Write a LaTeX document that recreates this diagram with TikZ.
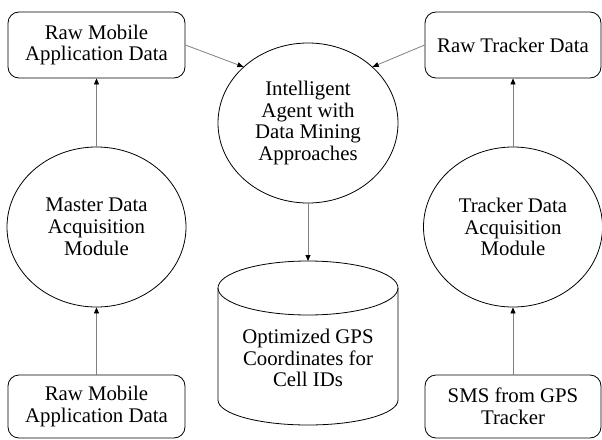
\documentclass[tikz,border=0pt]{standalone}
\usepackage{fontspec}
\setmainfont{Liberation Serif}
\usetikzlibrary{shapes.geometric,arrows.meta}
\begin{document}
\begin{tikzpicture}[x=1pt,y=-1pt,
  txt/.style={font=\fontsize{20.8}{21.8}\selectfont, align=center},
  box/.style={txt, draw=black, line width=0.8pt, rounded corners=11pt, inner sep=0pt},
  ell/.style={txt, ellipse, draw=black, line width=0.8pt, inner sep=0pt, minimum width=179pt, minimum height=160pt},
  conn/.style={draw=black!50, line width=0.8pt, -{Triangle[length=6pt,width=5pt,color=black]}}]
\useasboundingbox (0,0) rectangle (602,439);
% boxes
\node[box, minimum width=177pt, minimum height=66pt] (tl) at (96.5,45) {Raw Mobile\\Application Data};
\node[box, minimum width=176pt, minimum height=66pt] (tr) at (513,45) {Raw Tracker Data};
\node[box, minimum width=177pt, minimum height=63pt] (bl) at (96.5,406.5) {Raw Mobile\\Application Data};
\node[box, minimum width=176pt, minimum height=63pt] (br) at (513,406.5) {SMS from GPS\\Tracker};
% ellipses
\node[ell] (lm) at (96.5,227) {Master Data\\Acquisition\\Module};
\node[ell] (rm) at (513,227) {Tracker Data\\Acquisition\\Module};
\node[ell, minimum width=180pt] (ag) at (308,123) {Intelligent\\Agent with\\Data Mining\\Approaches};
% cylinder
\draw[line width=0.8pt] (218,288) -- (218,400) arc[start angle=180, end angle=0, x radius=90, y radius=25] -- (398,288);
\draw[line width=0.8pt] (308,288) ellipse[x radius=90, y radius=27];
\coordinate (dbtop) at (308,261);
\node[txt] (db) at (308,358) {Optimized GPS\\Coordinates for\\Cell IDs};
% connectors
\draw[conn] (lm.north) -- (tl.south);
\draw[conn] (bl.north) -- (lm.south);
\draw[conn] (rm.north) -- (tr.south);
\draw[conn] (br.north) -- (rm.south);
\draw[conn] (tl.east) -- (ag.139);
\draw[conn] (tr.west) -- (ag.41);
\draw[conn] (ag.south) -- (dbtop);
\end{tikzpicture}
\end{document}
